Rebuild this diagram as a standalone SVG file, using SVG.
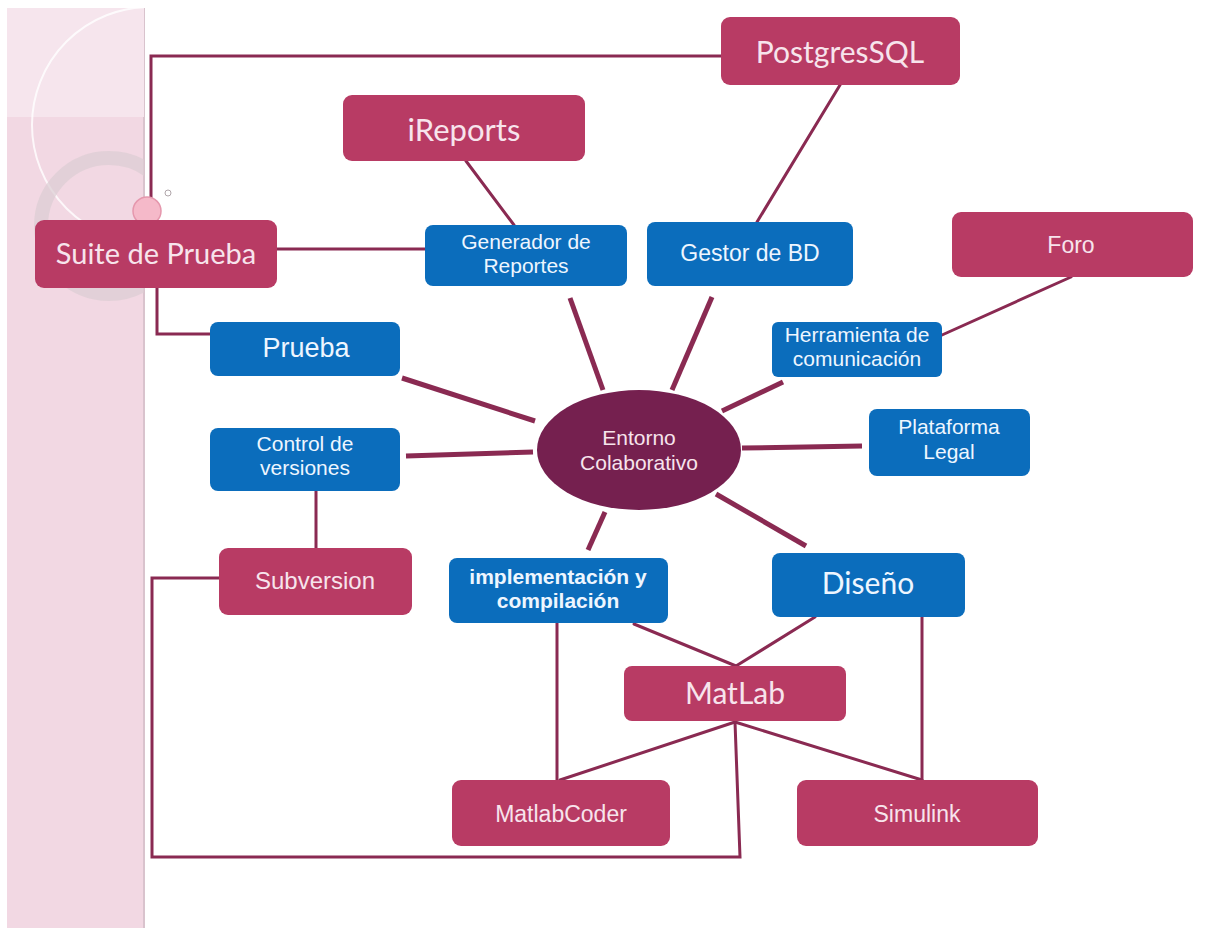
<svg xmlns="http://www.w3.org/2000/svg" width="1230" height="928" viewBox="0 0 1230 928">
<defs>
<clipPath id="panelClip"><rect x="7" y="8" width="137" height="920"/></clipPath>
<style>
.cr{fill:#b83b64;}
.bl{fill:#0b6dbc;}
.ln{fill:none;stroke:#8a2a52;stroke-width:3;stroke-linecap:round;stroke-linejoin:miter;}
.sp{fill:none;stroke:#8a2a52;stroke-width:5;stroke-linecap:butt;}
.hu{font-family:Lato,"Open Sans",sans-serif;fill:#f7e4ec;text-anchor:middle;}
.ar{font-family:"Liberation Sans",Arial,sans-serif;fill:#eef6ff;text-anchor:middle;font-size:23px;}
.ar2{font-family:"Liberation Sans",Arial,sans-serif;fill:#eef6ff;text-anchor:middle;font-size:21px;}
.arc{font-family:"Liberation Sans",Arial,sans-serif;fill:#f7e4ec;text-anchor:middle;font-size:23px;}
.arc2{font-family:"Liberation Sans",Arial,sans-serif;fill:#f7e4ec;text-anchor:middle;font-size:21px;}
</style>
</defs>
<rect width="1230" height="928" fill="#ffffff"/>
<g id="panel">
<rect x="7" y="8" width="137" height="920" fill="#f2d8e3"/>
<rect x="143" y="8" width="2" height="920" fill="#d9c3cd"/>
<g clip-path="url(#panelClip)">
<rect x="7" y="8" width="137" height="109" fill="#f6e5ed"/>
<circle cx="150" cy="125" r="118" fill="none" stroke="#ffffff" stroke-width="2" opacity="0.8"/>
<circle cx="109" cy="226" r="68" fill="none" stroke="#dccdd3" stroke-width="14" opacity="0.7"/>
</g>
<circle cx="168" cy="193" r="3" fill="none" stroke="#b0a6aa" stroke-width="1"/>
</g>
<g id="connectors">
<polyline class="ln" points="721,56 151,56 151,220"/>
<polyline class="ln" points="157,288 157,334 210,334"/>
<line class="ln" x1="277" y1="249" x2="425" y2="249"/>
<line class="ln" x1="466" y1="161" x2="514" y2="225"/>
<line class="ln" x1="840" y1="85" x2="757" y2="222"/>
<line class="ln" x1="1071" y1="277" x2="942" y2="335"/>
<line class="ln" x1="316" y1="491" x2="316" y2="548"/>
<polyline class="ln" points="219,578 152,578 152,857 740,857 735,722"/>
<line class="ln" x1="557" y1="623" x2="557" y2="780"/>
<line class="ln" x1="634" y1="624" x2="736" y2="666"/>
<line class="ln" x1="815" y1="617" x2="736" y2="666"/>
<line class="ln" x1="735" y1="722" x2="560" y2="780"/>
<line class="ln" x1="735" y1="722" x2="922" y2="780"/>
<line class="ln" x1="922" y1="617" x2="922" y2="780"/>
<line class="sp" x1="570" y1="298" x2="603" y2="390"/>
<line class="sp" x1="712" y1="297" x2="672" y2="390"/>
<line class="sp" x1="783" y1="382" x2="722" y2="411"/>
<line class="sp" x1="742" y1="448" x2="862" y2="446"/>
<line class="sp" x1="716" y1="494" x2="806" y2="546"/>
<line class="sp" x1="605" y1="512" x2="588" y2="550"/>
<line class="sp" x1="406" y1="456" x2="533" y2="452"/>
<line class="sp" x1="402" y1="378" x2="535" y2="421"/>
</g>
<g id="pinkdot"><circle cx="147" cy="211" r="14" fill="#f5b9c9" stroke="#e597ad" stroke-width="1.5"/></g>
<g id="postgres"><rect class="cr" x="721" y="17" width="239" height="68" rx="9"/><text class="hu" x="840" y="63" font-size="30">PostgresSQL</text></g>
<g id="ireports"><rect class="cr" x="343" y="95" width="242" height="66" rx="9"/><text class="hu" x="464" y="141" font-size="31">iReports</text></g>
<g id="suite"><rect class="cr" x="35" y="220" width="242" height="68" rx="9"/><text class="hu" x="156" y="264" font-size="29">Suite de Prueba</text></g>
<g id="generador"><rect class="bl" x="425" y="225" width="202" height="61" rx="8"/><text class="ar2" x="526" y="249">Generador de</text><text class="ar2" x="526" y="273">Reportes</text></g>
<g id="gestor"><rect class="bl" x="647" y="222" width="206" height="64" rx="8"/><text class="ar" x="750" y="261">Gestor de BD</text></g>
<g id="foro"><rect class="cr" x="952" y="212" width="241" height="65" rx="9"/><text class="arc" x="1071" y="253">Foro</text></g>
<g id="herramienta"><rect class="bl" x="772" y="322" width="170" height="55" rx="6"/><text class="ar2" x="857" y="342">Herramienta de</text><text class="ar2" x="857" y="366">comunicación</text></g>
<g id="plataforma"><rect class="bl" x="869" y="409" width="161" height="67" rx="8"/><text class="ar2" x="949" y="434">Plataforma</text><text class="ar2" x="949" y="459">Legal</text></g>
<g id="prueba"><rect class="bl" x="210" y="322" width="190" height="54" rx="8"/><text class="ar" x="306" y="357" style="font-size:27px">Prueba</text></g>
<g id="control"><rect class="bl" x="210" y="428" width="190" height="63" rx="8"/><text class="ar2" x="305" y="451">Control de</text><text class="ar2" x="305" y="475">versiones</text></g>
<g id="subversion"><rect class="cr" x="219" y="548" width="193" height="67" rx="9"/><text class="arc" x="315" y="589" style="font-size:24px">Subversion</text></g>
<g id="implementacion"><rect class="bl" x="449" y="558" width="219" height="65" rx="8"/><text class="ar2" x="558" y="584" style="font-weight:bold">implementación y</text><text class="ar2" x="558" y="608" style="font-weight:bold">compilación</text></g>
<g id="diseno"><rect class="bl" x="772" y="553" width="193" height="64" rx="8"/><text class="hu" x="868" y="594" font-size="30" style="fill:#eef6ff">Diseño</text></g>
<g id="entorno"><ellipse cx="639" cy="450" rx="102" ry="60" fill="#75204f"/><text class="arc2" x="639" y="445">Entorno</text><text class="arc2" x="639" y="470">Colaborativo</text></g>
<g id="matlab"><rect class="cr" x="624" y="666" width="222" height="55" rx="8"/><text class="hu" x="735" y="704" font-size="30">MatLab</text></g>
<g id="matlabcoder"><rect class="cr" x="452" y="780" width="218" height="66" rx="9"/><text class="arc" x="561" y="822">MatlabCoder</text></g>
<g id="simulink"><rect class="cr" x="797" y="780" width="241" height="66" rx="9"/><text class="arc" x="917" y="822">Simulink</text></g>
</svg>
